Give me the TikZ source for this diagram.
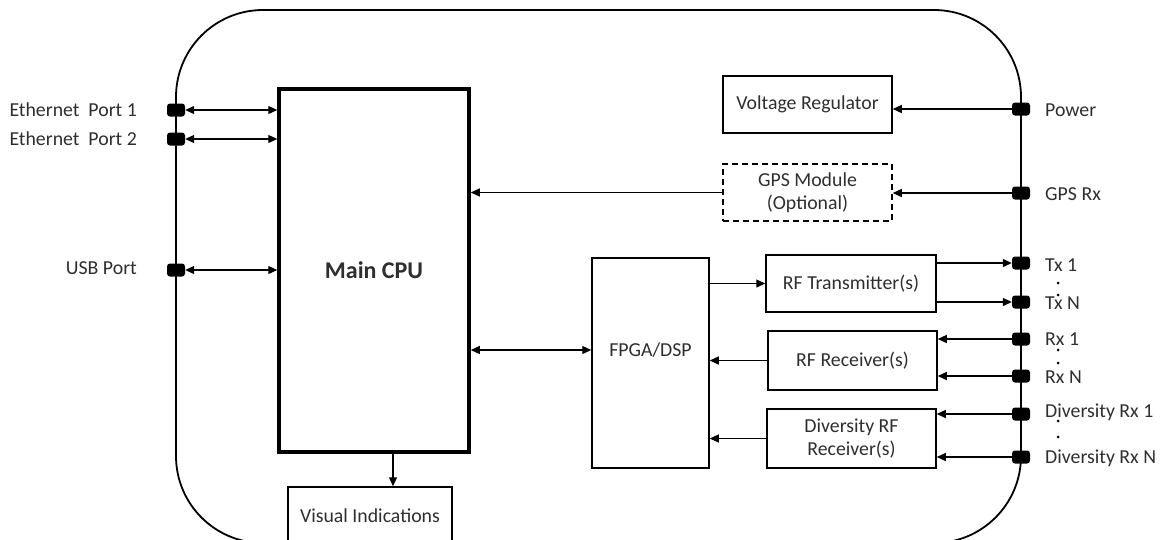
\documentclass[tikz,border=0pt]{standalone}
\usepackage{fontspec}
\setmainfont{Carlito}
\usetikzlibrary{arrows.meta,calc}
\begin{document}
\begin{tikzpicture}[x=1pt,y=-1pt,
  every node/.style={text=black!82,font=\fontsize{19.8}{23}\selectfont},
  blk/.style={draw=black,line width=1.5pt,inner sep=0pt,align=center},
  port/.style={fill=black,rounded corners=3pt,minimum width=18pt,minimum height=13pt,inner sep=0pt},
  arr/.style={line width=1.2pt,-{Triangle[length=9pt,width=8pt]}},
  darr/.style={line width=1.2pt,{Triangle[length=9pt,width=8pt]}-{Triangle[length=9pt,width=8pt]}},
  plabel/.style={anchor=west,inner sep=0pt},
  llabel/.style={anchor=east,inner sep=0pt}]
\useasboundingbox (0,0) rectangle (1164,539);
% outer enclosure
\draw[line width=1.8pt,rounded corners=87pt] (176,10) rectangle (1021,543);
% blocks
\node[blk,line width=3.5pt,minimum width=190pt,minimum height=363pt,font=\fontsize{24}{28}\selectfont\bfseries] (cpu) at (374,270.5) {Main CPU};
\node[blk,minimum width=164pt,minimum height=58pt] (vis) at (370,516) {Visual Indications};
\node[blk,minimum width=169pt,minimum height=57pt] (vr) at (807.5,104.5) {Voltage Regulator};
\node[blk,dashed,dash pattern=on 6pt off 4pt,minimum width=169pt,minimum height=57pt] (gps) at (807.5,192.5) {GPS Module\\(Optional)};
\node[blk,minimum width=117pt,minimum height=210pt] (fpga) at (650.5,363) {};
\node (fpgalbl) at (650.5,350) {FPGA/DSP};
\node[blk,minimum width=170pt,minimum height=57pt] (rftx) at (851,283.5) {RF Transmitter(s)};
\node[blk,minimum width=169pt,minimum height=59pt] (rfrx) at (852.5,360.5) {RF Receiver(s)};
\node[blk,minimum width=169pt,minimum height=59pt] (div) at (851.5,438.5) {Diversity RF\\Receiver(s)};
% ports left
\node[port] (pe1) at (176,110) {};
\node[port] (pe2) at (176,139) {};
\node[port] (pusb) at (176,270) {};
% ports right
\node[port] (ppow) at (1021,109) {};
\node[port] (pgps) at (1021,193) {};
\node[port] (ptx1) at (1021,263) {};
\node[port] (ptxn) at (1021,302) {};
\node[port] (prx1) at (1021,339) {};
\node[port] (prxn) at (1021,376) {};
\node[port] (pd1) at (1021,414) {};
\node[port] (pdn) at (1021,457) {};
% labels
\node[llabel] (le1) at (137,110) {Ethernet\ \ Port 1};
\node[llabel] (le2) at (137,139) {Ethernet\ \ Port 2};
\node[llabel] (lusb) at (137,268) {USB Port};
\node[plabel] (lpow) at (1045,110) {Power};
\node[plabel] (lgps) at (1045,194) {GPS Rx};
\node[plabel] (ltx1) at (1045,265) {Tx 1};
\node[plabel] (ltxn) at (1045,303) {Tx N};
\node[plabel] (lrx1) at (1045,339) {Rx 1};
\node[plabel] (lrxn) at (1045,377) {Rx N};
\node[plabel] (ld1) at (1045,412) {Diversity Rx 1};
\node[plabel] (ldn) at (1045,458) {Diversity Rx N};
% dots
\foreach \y in {283,295,350,363,421,437} \fill (1058,\y) circle (1.5pt);
% connectors
\draw[darr] (pe1.east) -- (pe1.east -| cpu.west);
\draw[darr] (pe2.east) -- (pe2.east -| cpu.west);
\draw[darr] (pusb.east) -- (pusb.east -| cpu.west);
\draw[arr] (ppow.west) -- (ppow.west -| vr.east);
\draw[arr] (pgps.west) -- (pgps.west -| gps.east);
\draw[arr] (gps.west) -- (gps.west -| cpu.east);
\coordinate (cf) at (0,350);
\draw[darr] (cf -| cpu.east) -- (cf -| fpga.west);
\coordinate (cv) at (393,0);
\draw[arr] (cv |- cpu.south) -- (cv |- vis.north);
\draw[arr] (rftx.west -| fpga.east) -- (rftx.west);
\draw[arr] (ptx1.west -| rftx.east) -- (ptx1.west);
\draw[arr] (ptxn.west -| rftx.east) -- (ptxn.west);
\draw[arr] (prx1.west) -- (prx1.west -| rfrx.east);
\draw[arr] (prxn.west) -- (prxn.west -| rfrx.east);
\draw[arr] (rfrx.west) -- (rfrx.west -| fpga.east);
\draw[arr] (pd1.west) -- (pd1.west -| div.east);
\draw[arr] (pdn.west) -- (pdn.west -| div.east);
\draw[arr] (div.west) -- (div.west -| fpga.east);
\end{tikzpicture}
\end{document}
